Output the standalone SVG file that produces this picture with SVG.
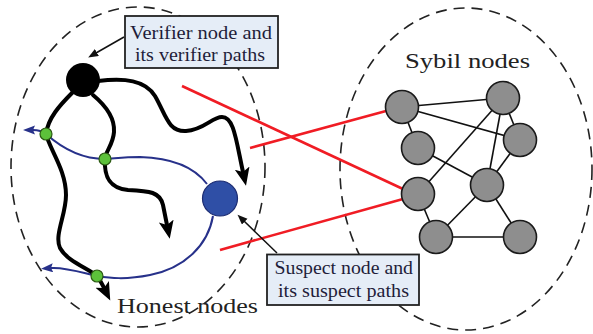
<svg xmlns="http://www.w3.org/2000/svg" width="593" height="334" viewBox="0 0 593 334">
<style>
.region{fill:none;stroke:#222;stroke-width:1.6;stroke-dasharray:11 7}
.vpath{fill:none;stroke:#000;stroke-width:4;stroke-linecap:round}
.spath{fill:none;stroke:#27318a;stroke-width:2}
.red{stroke:#f01c24;stroke-width:2.6;fill:none}
.sedge{stroke:#111;stroke-width:1.6}
.sybil{fill:#8e8e8e;stroke:#1a1a1a;stroke-width:1.6}
.green{fill:#5cc13a;stroke:#2b5a12;stroke-width:1.2}
.callout{fill:#e5edf7;stroke:#222;stroke-width:1.8}
.ctext{font-family:"Liberation Serif",serif;font-size:18px;fill:#1f1d3a}
.label{font-family:"Liberation Serif",serif;font-size:22px;fill:#222}
.thin{stroke:#111;stroke-width:1.5;fill:none}
</style>
<defs>
<marker id="ah-black" markerUnits="userSpaceOnUse" markerWidth="20" markerHeight="16" refX="4" refY="7.5" orient="auto">
<path d="M0,0 L18,7.5 L0,15 L4,7.5 z" fill="#000"/>
</marker>
<marker id="ah-blue" markerUnits="userSpaceOnUse" markerWidth="14" markerHeight="10" refX="2" refY="4.5" orient="auto">
<path d="M0,0 L12,4.5 L0,9 L2,4.5 z" fill="#27318a"/>
</marker>
<marker id="ah-thin" markerUnits="userSpaceOnUse" markerWidth="11" markerHeight="9" refX="1" refY="4" orient="auto">
<path d="M0,0 L10,4 L0,8 z" fill="#111"/>
</marker>
</defs>

<g id="honest-region">
<ellipse class="region" cx="138" cy="167" rx="127" ry="160"/>
<text class="label" x="117" y="313" textLength="141" lengthAdjust="spacingAndGlyphs">Honest nodes</text>
</g>
<g id="sybil-region">
<ellipse class="region" cx="466" cy="169" rx="126" ry="161"/>
<text class="label" x="405" y="68" textLength="125" lengthAdjust="spacingAndGlyphs">Sybil nodes</text>
</g>

<g id="connectors">
<g id="attack-edges">
<line class="red" x1="182" y1="86" x2="403" y2="189"/>
<line class="red" x1="250" y1="148" x2="386" y2="111"/>
<line class="red" x1="220" y1="250" x2="403" y2="199"/>
</g>
<g id="sybil-edges">
<line class="sedge" x1="402" y1="107" x2="503" y2="98"/>
<line class="sedge" x1="402" y1="107" x2="520" y2="140"/>
<line class="sedge" x1="402" y1="107" x2="418" y2="148"/>
<line class="sedge" x1="418" y1="148" x2="487" y2="185"/>
<line class="sedge" x1="418" y1="194" x2="503" y2="98"/>
<line class="sedge" x1="487" y1="185" x2="503" y2="98"/>
<line class="sedge" x1="503" y1="98" x2="520" y2="140"/>
<line class="sedge" x1="487" y1="185" x2="520" y2="140"/>
<line class="sedge" x1="418" y1="194" x2="436" y2="237"/>
<line class="sedge" x1="487" y1="185" x2="436" y2="237"/>
<line class="sedge" x1="487" y1="185" x2="520" y2="237"/>
<line class="sedge" x1="436" y1="237" x2="520" y2="237"/>
</g>
<g id="suspect-paths">
<path class="spath" d="M207,184 C195,168 175,158 140,157 C122,157 112,159 105,159 C85,159 64,150 46,134 C42,131 38,130 33,130" marker-end="url(#ah-blue)"/>
<path class="spath" d="M213,216 C208,245 185,268 150,275 C125,280 110,278 97,276 C80,272 65,267 51,268" marker-end="url(#ah-blue)"/>
</g>
<g id="verifier-paths">
<path class="vpath" d="M98,81 C125,78 145,80 155,96 C166,115 168,132 186,131 C204,130 212,117 222,117 C234,117 236,140 243,172" marker-end="url(#ah-black)"/>
<path class="vpath" d="M72,93 C60,105 48,118 46,134 C50,150 66,170 66,195 C66,215 54,235 60,248 C68,262 88,268 97,276 C101,281 102,284 104,288" marker-end="url(#ah-black)"/>
<path class="vpath" d="M93,95 C105,105 115,118 114,132 C113,145 106,150 105,159 C104,175 108,188 128,190 C150,191 160,192 163,205 L167,225" marker-end="url(#ah-black)"/>
</g>
<g id="callout-arrows">
<line class="thin" x1="124" y1="37" x2="96" y2="53" marker-end="url(#ah-thin)"/>
<line class="thin" x1="277" y1="253" x2="244" y2="221" marker-end="url(#ah-thin)"/>
</g>
</g>

<g id="verifier-node"><circle cx="83" cy="80" r="17" fill="#000"/></g>
<g id="suspect-node"><circle cx="220" cy="198.5" r="17.5" fill="#2f4fa6" stroke="#1c2c72" stroke-width="1.2"/></g>
<g id="honest-node-1"><circle class="green" cx="46" cy="134" r="6"/></g>
<g id="honest-node-2"><circle class="green" cx="105" cy="159" r="6"/></g>
<g id="honest-node-3"><circle class="green" cx="97" cy="276" r="6"/></g>

<g id="sybil-node-1"><circle class="sybil" cx="402" cy="107" r="16.5"/></g>
<g id="sybil-node-2"><circle class="sybil" cx="503" cy="98" r="16.5"/></g>
<g id="sybil-node-3"><circle class="sybil" cx="418" cy="148" r="16.5"/></g>
<g id="sybil-node-4"><circle class="sybil" cx="520" cy="140" r="16.5"/></g>
<g id="sybil-node-5"><circle class="sybil" cx="418" cy="194" r="16.5"/></g>
<g id="sybil-node-6"><circle class="sybil" cx="487" cy="185" r="16.5"/></g>
<g id="sybil-node-7"><circle class="sybil" cx="436" cy="237" r="16.5"/></g>
<g id="sybil-node-8"><circle class="sybil" cx="520" cy="237" r="16.5"/></g>

<g id="verifier-callout">
<rect class="callout" x="125" y="16" width="153" height="52"/>
<text class="ctext" x="130" y="38.5" textLength="142" lengthAdjust="spacingAndGlyphs">Verifier node and</text>
<text class="ctext" x="135" y="61" textLength="130" lengthAdjust="spacingAndGlyphs">its verifier paths</text>
</g>
<g id="suspect-callout">
<rect class="callout" x="267" y="254.5" width="152" height="50.5"/>
<text class="ctext" x="274.5" y="274" textLength="138.5" lengthAdjust="spacingAndGlyphs">Suspect node and</text>
<text class="ctext" x="278" y="296.5" textLength="131" lengthAdjust="spacingAndGlyphs">its suspect paths</text>
</g>
</svg>
